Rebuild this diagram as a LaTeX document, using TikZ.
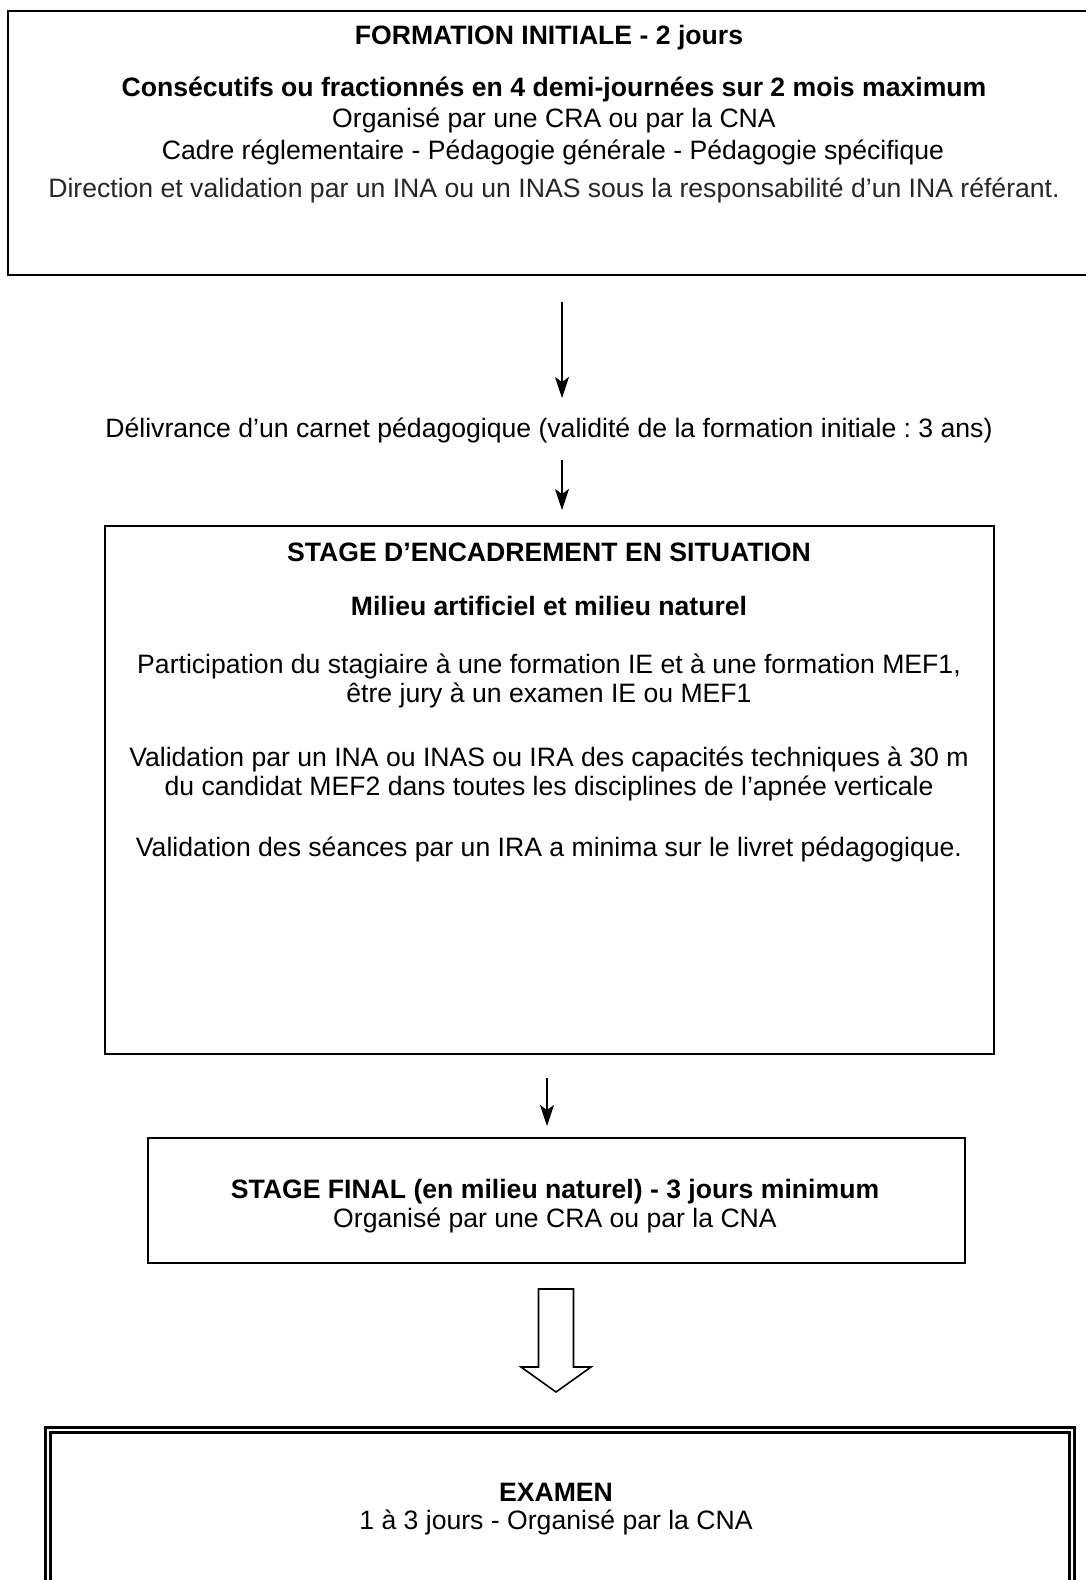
\documentclass[tikz,border=0pt]{standalone}
\usepackage{fontspec}
\setmainfont{Liberation Sans}
\usetikzlibrary{arrows.meta}
\frenchspacing

\begin{document}
\begin{tikzpicture}[x=0.5pt, y=-0.5pt,
    every node/.style={font=\fontsize{13.3}{14.8}\selectfont, align=center},
    titre/.style={font=\fontsize{13.3}{14.8}\selectfont\bfseries},
    boite/.style={draw, line width=1.2pt, inner sep=0pt},
    fleche/.style={-{Stealth[length=10.5pt, width=7pt, inset=2.5pt]}, line width=0.8pt}]
            \useasboundingbox (0,0) rectangle (1086,1580);
            \clip (0,0) rectangle (1086,1580);

            % les cadres
            \node[boite, minimum width=543pt, minimum height=132pt] (formation) at (551,143) {};
            \node[boite, minimum width=444.5pt, minimum height=264pt] (stage) at (549.5,790) {};
            \node[boite, line width=1pt, minimum width=408.5pt, minimum height=62.5pt] (final) at (556.5,1200.5) {};
            \node[draw, double, line width=1.1pt, double distance=1.4pt, minimum width=512pt, minimum height=105pt] (examen) at (560,1535) {};

            % formation initiale
            \node[titre] (fi1) at (549,38) {FORMATION INITIALE - 2 jours};
            \node[titre] (fi2) at (554,90) {Consécutifs ou fractionnés en 4 demi-journées sur 2 mois maximum};
            \node (fi3) at (554,120) {Organisé par une CRA ou par la CNA};
            \node (fi4) at (553,152) {Cadre réglementaire - Pédagogie générale - Pédagogie spécifique};
            \node[text=black!85] (fi5) at (554,190) {Direction et validation par un INA ou un INAS sous la responsabilité d’un INA référant.};

            \node (carnet) at (549,430) {Délivrance d’un carnet pédagogique (validité de la formation initiale : 3 ans)};

            % stage d'encadrement
            \node[titre] (st1) at (549,552) {STAGE D’ENCADREMENT EN SITUATION};
            \node[titre] (st2) at (549,606) {Milieu artificiel et milieu naturel};
            \node (st3) at (549,681) {Participation du stagiaire à une formation IE et à une formation MEF1,\\être jury à un examen IE ou MEF1};
            \node (st4) at (549,774) {Validation par un INA ou INAS ou IRA des capacités techniques à 30 m\\du candidat MEF2 dans toutes les disciplines de l’apnée verticale};
            \node (st5) at (549,849) {Validation des séances par un IRA a minima sur le livret pédagogique.};

            % stage final
            \node[titre] (sf1) at (555,1192) {STAGE FINAL (en milieu naturel) - 3 jours minimum};
            \node (sf2) at (555,1220) {Organisé par une CRA ou par la CNA};

            % examen
            \node[titre] (ex1) at (556,1492) {EXAMEN};
            \node (ex2) at (556,1522) {1 à 3 jours - Organisé par la CNA};

            % fleches
            \coordinate (f1a) at (562,302);
            \coordinate (f1b) at (562,398);
            \coordinate (f2a) at (562,460);
            \coordinate (f2b) at (562,510);
            \coordinate (f3a) at (547,1078);
            \coordinate (f3b) at (547,1126);
            \draw[fleche] (f1a) -- (f1b);
            \draw[fleche] (f2a) -- (f2b);
            \draw[fleche] (f3a) -- (f3b);

            \coordinate (gf) at (556,1289);
            \draw[line width=0.8pt, line join=miter] (gf) ++(-17.5,0) -- ++(35,0) -- ++(0,78) -- ++(17.5,0)
                -- ++(-35,25) -- ++(-35,-25) -- ++(17.5,0) -- cycle;
        \end{tikzpicture}
\end{document}
